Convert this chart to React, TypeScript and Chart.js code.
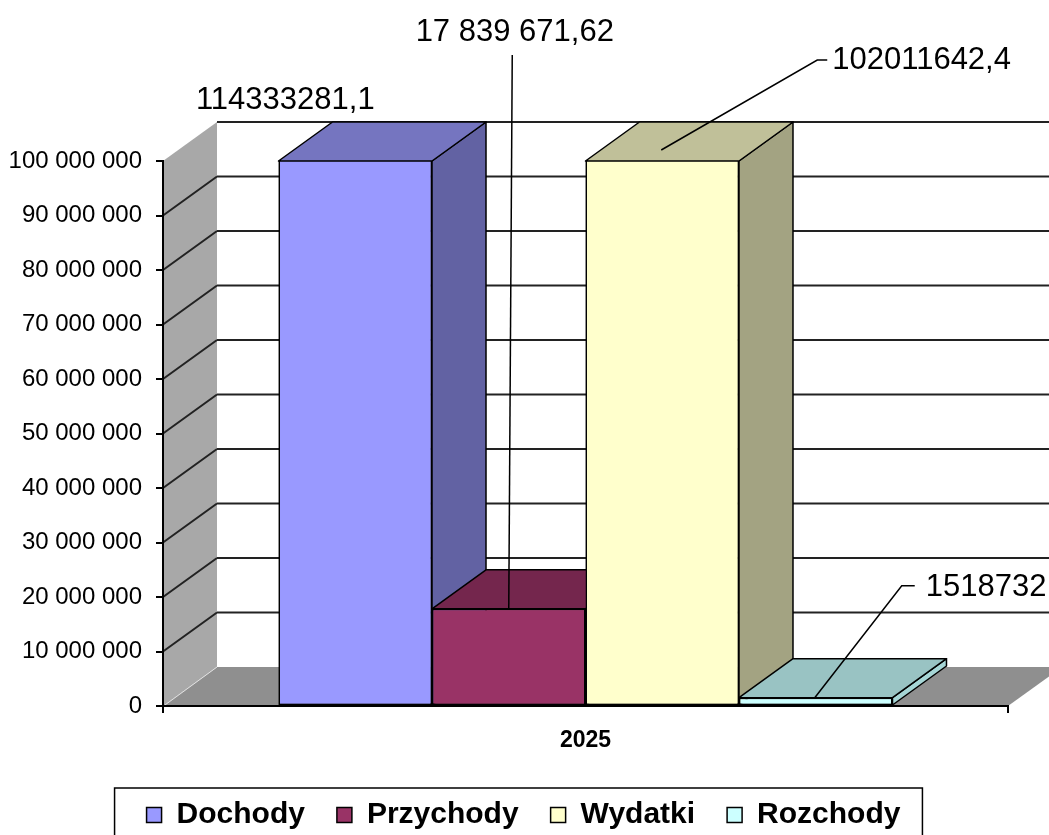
import React, { useEffect, useRef } from 'react';
import { Chart, registerables } from 'chart.js';

Chart.register(...registerables);

// ---- data ----
const categories = ['2025'];
const seriesNames = ['Dochody', 'Przychody', 'Wydatki', 'Rozchody'];
const dochodyValues = [114333281.1];
const przychodyValues = [17839671.62];
const wydatkiValues = [102011642.4];
const rozchodyValues = [1518732];
const valueLabels = ['114333281,1', '17 839 671,62', '102011642,4', '1518732'];
const yMin = 0;
const yMax = 100000000;
const yStep = 10000000;

// ---- styles ----
const frontColors = ['#9999FF', '#993366', '#FFFFCC', '#CCFFFF'];
const topColors = ['#7575C0', '#74264D', '#C0C099', '#99C3C3'];
const sideColors = ['#6262A3', '#612041', '#A3A382', '#A6D6D6'];
const DX = 54;
const DY = -39;
const FONT = '"Liberation Sans", Arial, Helvetica, sans-serif';

const formatTick = (v: number) =>
  String(Math.round(v)).replace(/\B(?=(\d{3})+(?!\d))/g, ' ');

function poly(ctx: CanvasRenderingContext2D, pts: number[][], fill: string, stroke?: string, lw = 1.5) {
  ctx.beginPath();
  ctx.moveTo(pts[0][0], pts[0][1]);
  for (let i = 1; i < pts.length; i++) ctx.lineTo(pts[i][0], pts[i][1]);
  ctx.closePath();
  ctx.fillStyle = fill;
  ctx.fill();
  if (stroke) {
    ctx.strokeStyle = stroke;
    ctx.lineWidth = lw;
    ctx.lineJoin = 'round';
    ctx.stroke();
  }
}

const threeDPlugin = {
  id: 'threeD',
  afterLayout(chart: any) {
    // centre the legend row under the frame like the original
    if (chart.legend) {
      chart.legend.right += 39;
      chart.legend.width += 39;
    }
  },
  beforeDraw(chart: any) {
    const { ctx, chartArea: a } = chart;
    const ys = chart.scales.y;
    const L = a.left, R = a.right, T = a.top, B = a.bottom;
    ctx.save();
    // side wall
    poly(ctx, [[L, T], [L + DX, T + DY], [L + DX, B + DY], [L, B]], '#A8A8A8');
    // floor
    poly(ctx, [[L, B], [R, B], [R + DX, B + DY], [L + DX, B + DY]], '#8F8F8F');
    // light edge between side wall and floor
    ctx.strokeStyle = '#E0E0E0';
    ctx.lineWidth = 1;
    ctx.beginPath();
    ctx.moveTo(L + 2, B - 1);
    ctx.lineTo(L + DX, B + DY);
    ctx.stroke();
    // gridlines
    ctx.strokeStyle = '#222';
    ctx.lineWidth = 2;
    for (let v = yMin + yStep; v <= yMax + 1; v += yStep) {
      const y = ys.getPixelForValue(v);
      ctx.beginPath();
      ctx.moveTo(L + DX, y + DY);
      ctx.lineTo(R + DX, y + DY);
      if (v < yMax) {
        ctx.moveTo(L, y);
        ctx.lineTo(L + DX, y + DY);
      }
      ctx.stroke();
    }
    ctx.restore();
  },
  afterDatasetsDraw(chart: any) {
    const { ctx, chartArea: a } = chart;
    seriesNames.forEach((_, i) => {
      const meta = chart.getDatasetMeta(i);
      meta.data.forEach((el: any) => {
        const p = el.getProps(['x', 'y', 'base', 'width'], true);
        const top = Math.max(Math.min(p.y, p.base), a.top);
        const bottom = p.base;
        const left = p.x - p.width / 2;
        const right = p.x + p.width / 2;
        // front face (library element), clipped to the plot area
        ctx.save();
        ctx.beginPath();
        ctx.rect(a.left, a.top - 1, a.right - a.left, a.bottom - a.top + 2);
        ctx.clip();
        el.draw(ctx, a);
        ctx.restore();
        ctx.save();
        // side face
        poly(ctx, [[right, top], [right + DX, top + DY], [right + DX, bottom + DY], [right, bottom]], sideColors[i], '#000');
        // top face
        poly(ctx, [[left, top], [right, top], [right + DX, top + DY], [left + DX, top + DY]], topColors[i], '#000');
        ctx.restore();
      });
    });
  },
  afterDraw(chart: any) {
    const { ctx, chartArea: a } = chart;
    const bars = seriesNames.map((_, i) => chart.getDatasetMeta(i).data[0]);
    ctx.save();
    ctx.font = `31px ${FONT}`;
    ctx.fillStyle = '#000';
    ctx.strokeStyle = '#000';
    ctx.lineWidth = 1.5;
    ctx.textBaseline = 'middle';

    // Dochody
    const b0 = bars[0];
    ctx.textAlign = 'center';
    ctx.fillText(valueLabels[0], b0.x - 70, a.top - 61);

    // Przychody
    const b1 = bars[1];
    ctx.beginPath();
    ctx.moveTo(b1.x, b1.y);
    ctx.lineTo(b1.x + 3.5, 55);
    ctx.stroke();
    ctx.fillText(valueLabels[1], b1.x + 6, 32);

    // Wydatki
    const b2 = bars[2];
    const t2 = Math.max(b2.y, a.top);
    ctx.beginPath();
    ctx.moveTo(b2.x - 1, t2 - 11);
    ctx.lineTo(b2.x + 155, 60);
    ctx.lineTo(b2.x + 165, 60);
    ctx.stroke();
    ctx.textAlign = 'left';
    ctx.fillText(valueLabels[2], b2.x + 170, 60);

    // Rozchody
    const b3 = bars[3];
    ctx.beginPath();
    ctx.moveTo(b3.x - 1, b3.y);
    ctx.lineTo(b3.x + 86, b3.y - 112);
    ctx.lineTo(b3.x + 99, b3.y - 112);
    ctx.stroke();
    ctx.fillText(valueLabels[3], b3.x + 110, b3.y - 110);

    // legend frame
    const hb = chart.legend && chart.legend.legendHitBoxes;
    if (hb && hb.length) {
      const first = hb[0];
      const last = hb[hb.length - 1];
      ctx.lineWidth = 1.5;
      ctx.strokeRect(first.left - 32, 788, last.left + last.width + 22 - (first.left - 32), 70);
    }
    ctx.restore();
  },
};

const seriesValues = [dochodyValues, przychodyValues, wydatkiValues, rozchodyValues];

export default function App() {
  const ref = useRef<HTMLCanvasElement>(null);
  useEffect(() => {
    const canvas = ref.current;
    if (!canvas) return;
    Chart.defaults.font.family = FONT;
    Chart.defaults.color = '#000';
    const chart = new Chart(canvas, {
      type: 'bar',
      data: {
        labels: categories,
        datasets: seriesNames.map((name, i) => ({
          label: name,
          data: seriesValues[i],
          backgroundColor: frontColors[i],
          borderColor: '#000',
          borderWidth: 1.5,
          borderSkipped: false,
          categoryPercentage: 0.7266,
          barPercentage: 1,
        })),
      },
      options: {
        responsive: false,
        animation: false,
        devicePixelRatio: 1,
        layout: { padding: { top: 161, right: 41, left: 0, bottom: 0 } },
        plugins: {
          legend: {
            position: 'bottom',
            labels: {
              boxWidth: 15,
              boxHeight: 15,
              padding: 32,
              color: '#000',
              font: { size: 30, weight: 'bold', family: FONT },
            },
          },
          tooltip: { enabled: false },
        },
        scales: {
          x: {
            type: 'category',
            grid: {
              display: true,
              drawOnChartArea: false,
              drawTicks: true,
              tickLength: 7,
              color: '#000',
              lineWidth: 2,
              offset: true,
            },
            border: { display: true, color: '#000', width: 2 },
            ticks: { color: '#000', padding: 14, font: { size: 23, weight: 'bold', family: FONT } },
            afterFit: (s: any) => { s.height = 62; },
          },
          y: {
            min: yMin,
            max: yMax,
            grid: {
              display: true,
              drawOnChartArea: false,
              drawTicks: true,
              tickLength: 7,
              color: '#000',
              lineWidth: 2,
            },
            border: { display: true, color: '#000', width: 2 },
            ticks: {
              stepSize: yStep,
              padding: 14,
              color: '#000',
              font: { size: 24, family: FONT },
              callback: (v: any) => formatTick(Number(v)),
            },
            afterFit: (s: any) => { s.width = 163; },
          },
        },
      },
      plugins: [threeDPlugin],
    } as any);
    return () => chart.destroy();
  }, []);
  return (
    <div style={{ position: 'fixed', left: 0, top: 0, width: 1049, height: 835, overflow: 'hidden', background: '#fff' }}>
      <canvas ref={ref} width={1049} height={840} style={{ display: 'block', width: 1049, height: 840 }} />
    </div>
  );
}
